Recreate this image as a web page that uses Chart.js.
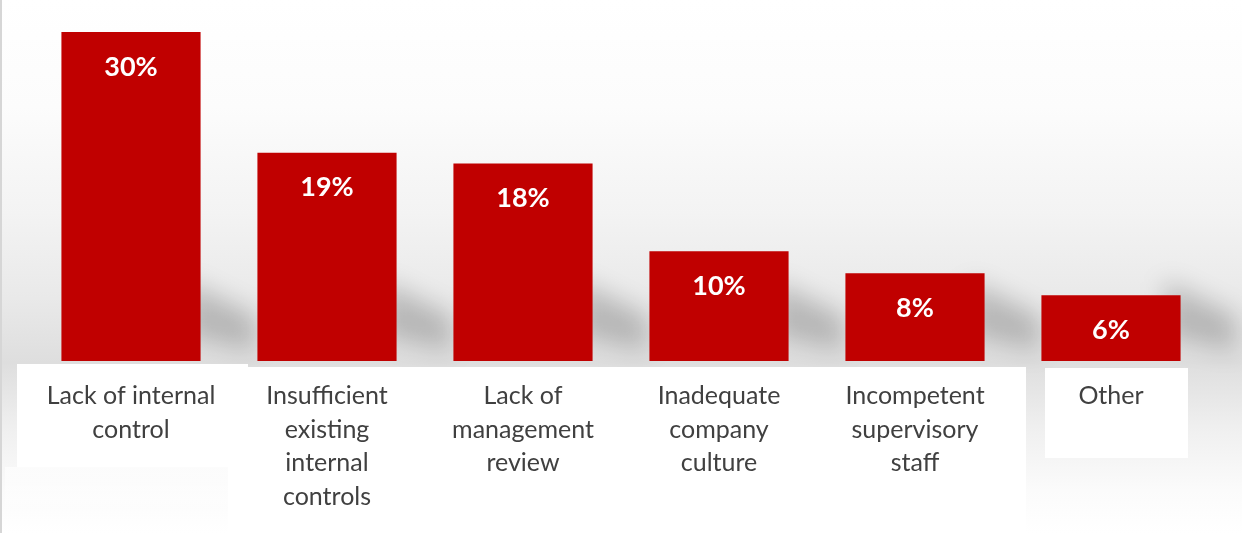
<!DOCTYPE html>
<html>
<head>
<meta charset="utf-8">
<script src="https://cdn.jsdelivr.net/npm/chart.js@4/dist/chart.umd.min.js"></script>
<style>
  html, body { margin:0; padding:0; background:#fff; }
  #wrap { width:1242px; height:533px; position:relative; }
</style>
</head>
<body>
<div id="wrap"><canvas id="c"></canvas></div>
<script>
// data
const categories = [
  ['Lack of internal', 'control'],
  ['Insufficient', 'existing', 'internal', 'controls'],
  ['Lack of', 'management', 'review'],
  ['Inadequate', 'company', 'culture'],
  ['Incompetent', 'supervisory', 'staff'],
  ['Other']
];
const values = [30, 19, 18, 10, 8, 6];
const valueLabels = ['30%', '19%', '18%', '10%', '8%', '6%'];

const RED = '#C00000';
const FONT = 'Lato, "Open Sans", "Liberation Sans", sans-serif';

// backdrop: soft grey gradient, bar shadows, white label cards
const backdrop = {
  id: 'backdrop',
  beforeDraw(chart){
    const ctx = chart.ctx, W = chart.width, H = chart.height;
    ctx.save();
    const g = ctx.createLinearGradient(0, 0, 0, H);
    g.addColorStop(0, '#ffffff');
    g.addColorStop(0.2, '#fcfcfc');
    g.addColorStop(0.4, '#f3f3f3');
    g.addColorStop(0.56, '#e9e9e9');
    g.addColorStop(0.68, '#dedede');
    g.addColorStop(0.8, '#efefef');
    g.addColorStop(0.92, '#fbfbfb');
    g.addColorStop(1, '#ffffff');
    ctx.fillStyle = g;
    ctx.fillRect(0, 0, W, H);

    // soft diagonal shadows to the right of each bar
    const bars = chart.getDatasetMeta(0).data;
    ctx.filter = 'blur(12px)';
    ctx.fillStyle = 'rgba(0,0,0,0.2)';
    bars.forEach(b => {
      const r = b.x + b.width/2, bot = b.base;
      ctx.beginPath();
      ctx.moveTo(r - 15, bot - 80);
      ctx.lineTo(r + 55, bot - 45);
      ctx.lineTo(r + 55, bot - 10);
      ctx.lineTo(r - 15, bot - 25);
      ctx.closePath();
      ctx.fill();
    });
    ctx.filter = 'none';

    // white label cards
    ctx.fillStyle = '#ffffff';
    ctx.fillRect(17, 364, 231, 103);
    ctx.fillRect(228, 367, 798, 166);
    ctx.fillRect(1045, 368, 143, 90);
    const f = ctx.createLinearGradient(0, 467, 0, 520);
    f.addColorStop(0, 'rgba(255,255,255,0.6)');
    f.addColorStop(1, 'rgba(255,255,255,0.1)');
    ctx.fillStyle = f;
    ctx.fillRect(5, 467, 223, 55);

    // thin grey edge on the left
    ctx.fillStyle = '#d6d6d6';
    ctx.fillRect(0, 0, 2, H);
    ctx.restore();
  }
};

// percentage labels inside bar tops
const barLabels = {
  id: 'barLabels',
  afterDatasetsDraw(chart){
    const ctx = chart.ctx;
    ctx.save();
    ctx.fillStyle = '#ffffff';
    ctx.font = 'bold 27px ' + FONT;
    ctx.textAlign = 'center';
    ctx.textBaseline = 'middle';
    chart.getDatasetMeta(0).data.forEach((b, i) => {
      ctx.fillText(valueLabels[i], b.x, b.y + 35);
    });
    ctx.restore();
  }
};

new Chart(document.getElementById('c'), {
  type: 'bar',
  data: {
    labels: categories,
    datasets: [{
      data: values,
      backgroundColor: RED,
      borderWidth: 0,
      barPercentage: 0.71,
      categoryPercentage: 1
    }]
  },
  options: {
    responsive: true,
    maintainAspectRatio: false,
    animation: false,
    layout: { padding: { top: 32, left: 33, right: 33, bottom: 0 } },
    plugins: { legend: { display: false }, tooltip: { enabled: false } },
    scales: {
      y: { display: false, min: 0, max: 30 },
      x: {
        grid: { display: false, drawTicks: false },
        border: { display: false },
        ticks: {
          color: '#404040',
          font: { family: FONT, size: 25, lineHeight: 1.35 },
          padding: 18,
          maxRotation: 0,
          autoSkip: false
        },
        afterFit(s){ s.height = 172; }
      }
    }
  },
  plugins: [backdrop, barLabels]
});
</script>
</body>
</html>
